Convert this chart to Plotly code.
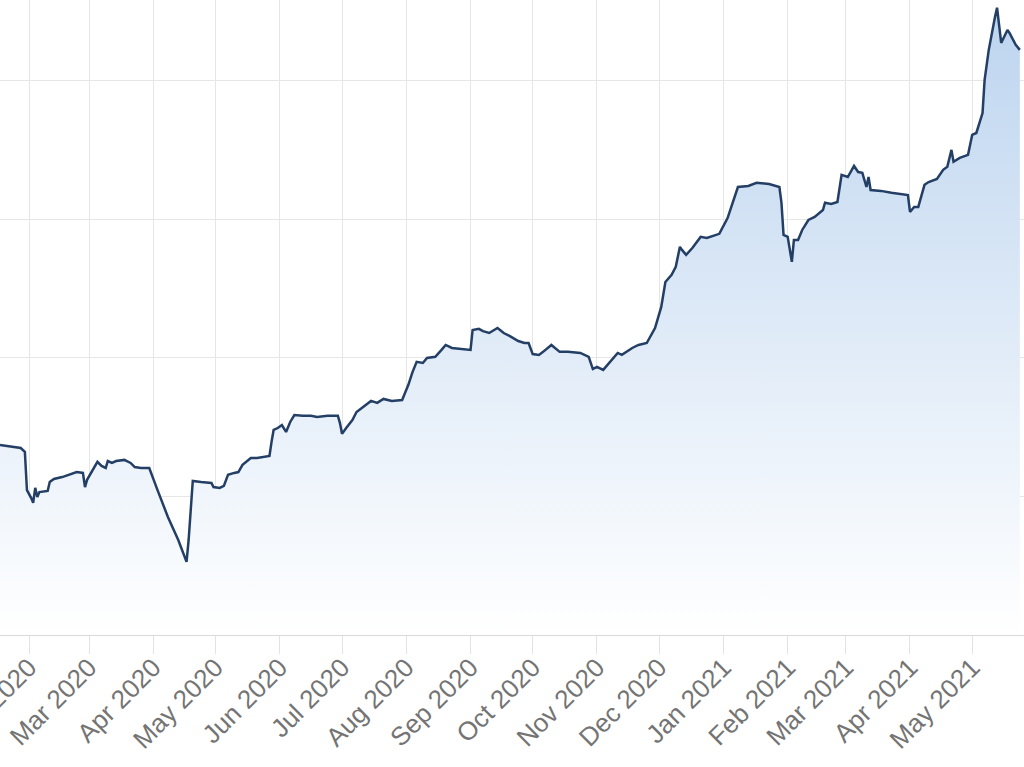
import plotly.graph_objects as go

# share price (irregular sample dates)
dates = [
    "2020-01-18", "2020-01-28", "2020-01-30", "2020-01-31", "2020-02-02", "2020-02-03",
    "2020-02-04", "2020-02-05", "2020-02-06", "2020-02-10", "2020-02-11", "2020-02-13",
    "2020-02-17", "2020-02-20", "2020-02-24", "2020-02-27", "2020-02-28", "2020-02-29",
    "2020-03-03", "2020-03-05", "2020-03-07", "2020-03-09", "2020-03-10", "2020-03-12",
    "2020-03-14", "2020-03-18", "2020-03-21", "2020-03-23", "2020-03-26", "2020-03-30",
    "2020-04-03", "2020-04-08", "2020-04-13", "2020-04-16", "2020-04-17", "2020-04-18",
    "2020-04-20", "2020-04-24", "2020-04-29", "2020-04-30", "2020-05-03", "2020-05-05",
    "2020-05-07", "2020-05-10", "2020-05-12", "2020-05-14", "2020-05-18", "2020-05-21",
    "2020-05-24", "2020-05-27", "2020-05-28", "2020-05-29", "2020-05-31", "2020-06-02",
    "2020-06-04", "2020-06-06", "2020-06-08", "2020-06-12", "2020-06-16", "2020-06-19",
    "2020-06-24", "2020-06-29", "2020-06-30", "2020-07-01", "2020-07-03", "2020-07-06",
    "2020-07-08", "2020-07-12", "2020-07-15", "2020-07-18", "2020-07-21", "2020-07-25",
    "2020-07-30", "2020-08-02", "2020-08-04", "2020-08-06", "2020-08-09", "2020-08-11",
    "2020-08-15", "2020-08-18", "2020-08-20", "2020-08-23", "2020-08-27", "2020-09-01",
    "2020-09-02", "2020-09-05", "2020-09-07", "2020-09-10", "2020-09-14", "2020-09-17",
    "2020-09-20", "2020-09-24", "2020-09-27", "2020-09-29", "2020-10-01", "2020-10-04",
    "2020-10-06", "2020-10-10", "2020-10-14", "2020-10-18", "2020-10-24", "2020-10-28",
    "2020-10-30", "2020-11-01", "2020-11-04", "2020-11-08", "2020-11-11", "2020-11-13",
    "2020-11-18", "2020-11-21", "2020-11-25", "2020-11-29", "2020-12-02", "2020-12-04",
    "2020-12-07", "2020-12-09", "2020-12-11", "2020-12-12", "2020-12-14", "2020-12-17",
    "2020-12-21", "2020-12-24", "2020-12-27", "2020-12-30", "2021-01-03", "2021-01-06",
    "2021-01-08", "2021-01-13", "2021-01-17", "2021-01-23", "2021-01-28", "2021-01-29",
    "2021-01-30", "2021-02-01", "2021-02-03", "2021-02-04", "2021-02-06", "2021-02-08",
    "2021-02-11", "2021-02-14", "2021-02-18", "2021-02-19", "2021-02-22", "2021-02-25",
    "2021-02-27", "2021-03-02", "2021-03-05", "2021-03-07", "2021-03-09", "2021-03-11",
    "2021-03-12", "2021-03-13", "2021-03-18", "2021-03-23", "2021-03-28", "2021-03-31",
    "2021-04-01", "2021-04-03", "2021-04-05", "2021-04-08", "2021-04-10", "2021-04-14",
    "2021-04-17", "2021-04-19", "2021-04-21", "2021-04-22", "2021-04-25", "2021-04-29",
    "2021-05-01", "2021-05-03", "2021-05-06", "2021-05-07", "2021-05-09", "2021-05-11",
    "2021-05-12", "2021-05-13", "2021-05-14", "2021-05-15", "2021-05-18", "2021-05-19",
    "2021-05-22", "2021-05-24",
]

prices = [
    26.86, 26.75, 26.61, 25.23, 24.95, 24.77,
    25.31, 24.98, 25.16, 25.20, 25.52, 25.63,
    25.70, 25.78, 25.88, 25.85, 25.34, 25.60,
    25.96, 26.25, 26.10, 26.03, 26.28, 26.21,
    26.28, 26.32, 26.21, 26.06, 26.03, 26.03,
    25.23, 24.26, 23.43, 22.82, 22.64, 23.43,
    25.56, 25.52, 25.49, 25.34, 25.31, 25.38,
    25.78, 25.85, 25.88, 26.14, 26.39, 26.39,
    26.43, 26.46, 26.97, 27.40, 27.47, 27.58,
    27.33, 27.69, 27.94, 27.91, 27.91, 27.87,
    27.91, 27.91, 27.65, 27.26, 27.47, 27.76,
    28.05, 28.27, 28.45, 28.38, 28.52, 28.45,
    28.48, 29.03, 29.49, 29.86, 29.82, 30.00,
    30.04, 30.29, 30.47, 30.36, 30.32, 30.29,
    31.01, 31.05, 30.97, 30.90, 31.08, 30.90,
    30.79, 30.61, 30.54, 30.54, 30.14, 30.11,
    30.22, 30.47, 30.22, 30.22, 30.18, 30.04,
    29.60, 29.68, 29.57, 29.93, 30.18, 30.11,
    30.36, 30.47, 30.54, 31.08, 31.84, 32.74,
    33.00, 33.29, 34.01, 33.90, 33.72, 33.97,
    34.37, 34.33, 34.40, 34.48, 35.05, 35.70,
    36.17, 36.21, 36.32, 36.28, 36.17, 35.60,
    34.44, 34.37, 33.47, 34.26, 34.26, 34.62,
    34.98, 35.09, 35.34, 35.60, 35.56, 35.63,
    36.61, 36.53, 36.93, 36.71, 36.68, 36.17,
    36.53, 36.06, 36.03, 35.96, 35.92, 35.88,
    35.27, 35.45, 35.45, 36.25, 36.35, 36.46,
    36.79, 36.90, 37.51, 37.08, 37.22, 37.33,
    38.05, 38.12, 38.84, 40.04, 41.12, 42.02,
    42.31, 42.64, 41.95, 41.37, 41.84, 41.73,
    41.30, 41.12,
]

x_range = ["2020-01-18", "2021-05-26"]
y_range = [20, 42.92]

fig = go.Figure()
fig.add_trace(go.Scatter(
    x=dates,
    y=prices,
    mode="lines",
    line=dict(color="#243f66", width=2.5),
    fill="tozeroy",
    fillgradient=dict(
        type="vertical",
        start=20,
        stop=43,
        colorscale=[[0, "rgba(255,255,255,1)"], [1, "rgb(188,212,239)"]],
    ),
    hoverinfo="x+y",
))

fig.update_layout(
    width=1024,
    height=767,
    margin=dict(l=0, r=0, t=0, b=132, autoexpand=False),
    paper_bgcolor="white",
    plot_bgcolor="white",
    showlegend=False,
    font=dict(family="Liberation Sans, Arial, sans-serif", size=26, color="#747474"),
)

fig.update_xaxes(
    type="date",
    range=x_range,
    automargin=False,
    tick0="2020-02-01",
    dtick="M1",
    tickformat="%b %Y",
    tickangle=-45,
    ticklabeloverflow="allow",
    ticklabelstandoff=-12,
    ticks="outside",
    ticklen=18,
    tickcolor="#e3e3e3",
    showgrid=True,
    gridcolor="#e6e6e6",
    gridwidth=1,
    showline=True,
    linecolor="#d9d9d9",
    linewidth=1,
    zeroline=False,
)

fig.update_yaxes(
    range=y_range,
    automargin=False,
    dtick=5,
    tick0=20,
    showticklabels=False,
    showgrid=True,
    gridcolor="#e6e6e6",
    gridwidth=1,
    zeroline=False,
)

# page body has a default 8px margin; drop it so the chart fills the window
fig.write_html(
    "out.html",
    config={"displayModeBar": False},
    post_script="document.body.style.margin='0';",
)
